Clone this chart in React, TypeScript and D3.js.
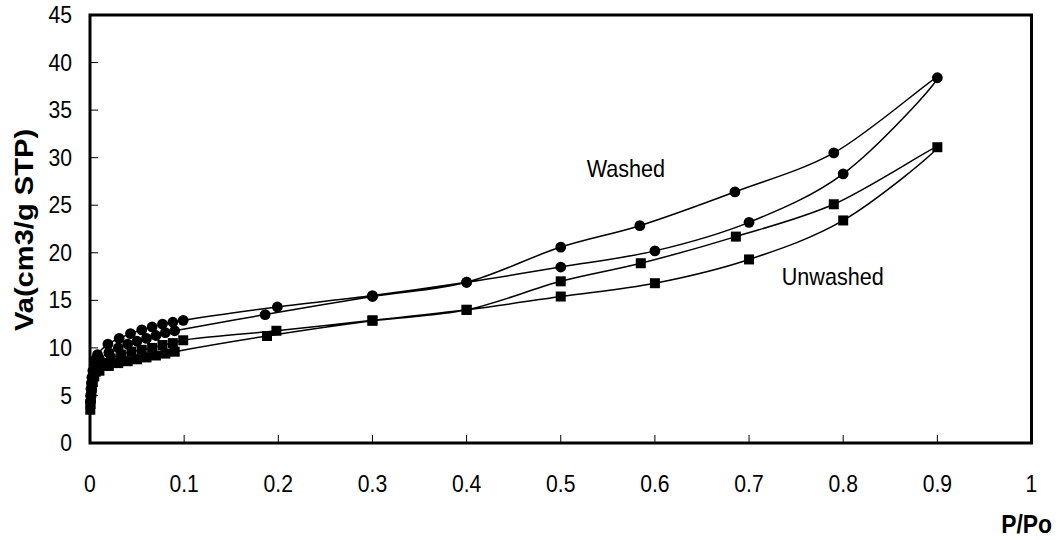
import React from "react";
import * as d3 from "d3";

// Nitrogen isotherms: relative pressure P/Po and adsorbed volume Va (cm3/g STP)
const washedAdsP = [0.0003, 0.0006, 0.001, 0.0015, 0.002, 0.003, 0.0045, 0.006, 0.008, 0.019, 0.031, 0.043, 0.055, 0.066, 0.077, 0.088, 0.099, 0.199, 0.3, 0.4, 0.5, 0.6, 0.7, 0.8, 0.9];
const washedAdsV = [4.3, 5.0, 5.7, 6.3, 6.9, 7.6, 8.2, 8.8, 9.3, 10.4, 11.0, 11.5, 11.9, 12.2, 12.5, 12.7, 12.9, 14.3, 15.5, 16.9, 18.5, 20.2, 23.2, 28.3, 38.4];
const washedDesP = [0.79, 0.685, 0.584, 0.5, 0.4, 0.3, 0.186, 0.09, 0.08, 0.07, 0.06, 0.05, 0.04, 0.03, 0.02, 0.01, 0.005];
const washedDesV = [30.5, 26.4, 22.85, 20.6, 16.9, 15.4, 13.5, 11.8, 11.6, 11.3, 11.0, 10.7, 10.4, 10.0, 9.5, 8.8, 8.2];

const unwashedAdsP = [0.0003, 0.0006, 0.001, 0.0015, 0.002, 0.003, 0.0045, 0.006, 0.008, 0.012, 0.022, 0.033, 0.044, 0.055, 0.066, 0.077, 0.088, 0.099, 0.198, 0.3, 0.4, 0.5, 0.6, 0.7, 0.8, 0.9];
const unwashedAdsV = [3.5, 4.1, 4.7, 5.3, 5.8, 6.4, 7.0, 7.5, 7.9, 8.4, 8.9, 9.3, 9.6, 9.8, 10.0, 10.3, 10.5, 10.8, 11.8, 12.9, 14.0, 15.4, 16.8, 19.3, 23.4, 31.1];
const unwashedDesP = [0.79, 0.686, 0.585, 0.5, 0.4, 0.3, 0.188, 0.09, 0.08, 0.07, 0.06, 0.05, 0.04, 0.03, 0.02, 0.01];
const unwashedDesV = [25.1, 21.7, 18.9, 17.0, 14.0, 12.85, 11.25, 9.6, 9.4, 9.2, 9.0, 8.8, 8.6, 8.4, 8.1, 7.6];

const xTicks = [0, 0.1, 0.2, 0.3, 0.4, 0.5, 0.6, 0.7, 0.8, 0.9, 1];
const xTickLabels = ["0", "0.1", "0.2", "0.3", "0.4", "0.5", "0.6", "0.7", "0.8", "0.9", "1"];
const yTicks = [0, 5, 10, 15, 20, 25, 30, 35, 40, 45];
const yTickLabels = ["0", "5", "10", "15", "20", "25", "30", "35", "40", "45"];

const FONT = "'Liberation Sans', Arial, sans-serif";

const W = 1062;
const H = 540;
const plot = { left: 90, right: 1031.5, top: 15, bottom: 443 };

type Pt = [number, number];
const zip = (p: number[], v: number[]): Pt[] => p.map((x, i) => [x, v[i]]);

export default function App() {
  const x = d3.scaleLinear().domain([0, 1]).range([plot.left, plot.right]);
  const y = d3.scaleLinear().domain([0, 45]).range([plot.bottom, plot.top]);

  const line = d3
    .line<Pt>()
    .x((d) => x(d[0]))
    .y((d) => y(d[1]))
    .curve(d3.curveCatmullRom.alpha(0.5));

  const washed = zip(washedAdsP, washedAdsV).concat(zip(washedDesP, washedDesV));
  const unwashed = zip(unwashedAdsP, unwashedAdsV).concat(zip(unwashedDesP, unwashedDesV));

  const sq = 10;

  return (
    <svg
      width={W}
      height={H}
      style={{ position: "absolute", left: 0, top: 0, background: "#fff" }}
      fontFamily={FONT}
    >
      <rect x={0} y={0} width={W} height={H} fill="#fff" />

      {/* inward ticks */}
      {xTicks.slice(1, -1).map((t) => (
        <line key={"xt" + t} x1={x(t)} x2={x(t)} y1={plot.bottom} y2={plot.bottom - 8} stroke="#000" strokeWidth={1} />
      ))}
      {yTicks.slice(1, -1).map((t) => (
        <line key={"yt" + t} x1={plot.left} x2={plot.left + 8} y1={y(t)} y2={y(t)} stroke="#000" strokeWidth={1} />
      ))}

      {/* isotherm curves */}
      <path d={line(washed) || ""} fill="none" stroke="#000" strokeWidth={1.5} />
      <path d={line(unwashed) || ""} fill="none" stroke="#000" strokeWidth={1.5} />

      {/* markers */}
      {washed.map((d, i) => (
        <circle key={"wc" + i} cx={x(d[0])} cy={y(d[1])} r={5.4} fill="#000" />
      ))}
      {unwashed.map((d, i) => (
        <rect key={"us" + i} x={x(d[0]) - sq / 2} y={y(d[1]) - sq / 2} width={sq} height={sq} fill="#000" />
      ))}

      {/* plot frame */}
      <rect
        x={plot.left}
        y={plot.top}
        width={plot.right - plot.left}
        height={plot.bottom - plot.top}
        fill="none"
        stroke="#000"
        strokeWidth={3}
      />

      {/* tick labels */}
      {xTicks.map((t, i) => (
        <g key={"xl" + t} transform={`translate(${x(t)},${484}) scale(0.92,1)`}>
          <text textAnchor="middle" dy="0.35em" fontSize={23} fill="#000">
            {xTickLabels[i]}
          </text>
        </g>
      ))}
      {yTicks.map((t, i) => (
        <g key={"yl" + t} transform={`translate(${72},${y(t)}) scale(0.92,1)`}>
          <text textAnchor="end" dy="0.35em" fontSize={23} fill="#000">
            {yTickLabels[i]}
          </text>
        </g>
      ))}

      {/* series annotations */}
      <g transform="translate(586.7,176.7) scale(0.9,1)">
        <text fontSize={24} fill="#000">Washed</text>
      </g>
      <g transform="translate(781.7,285) scale(0.9,1)">
        <text fontSize={24} fill="#000">Unwashed</text>
      </g>

      {/* axis titles */}
      <g transform="translate(1052,533) scale(0.88,1)">
        <text textAnchor="end" fontSize={26} fontWeight="bold" fill="#000">P/Po</text>
      </g>
      <g transform="translate(24,230) scale(1,1.12) rotate(-90)">
        <text textAnchor="middle" dy="0.35em" fontSize={26} fontWeight="bold" fill="#000">
          Va(cm3/g STP)
        </text>
      </g>
    </svg>
  );
}
